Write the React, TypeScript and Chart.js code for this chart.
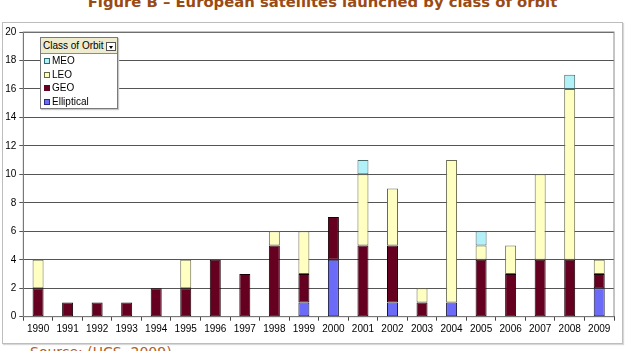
import React, { useEffect, useRef } from "react";
import { Chart, registerables } from "chart.js";

Chart.register(...registerables);

const years = [
  "1990", "1991", "1992", "1993", "1994", "1995", "1996", "1997", "1998", "1999",
  "2000", "2001", "2002", "2003", "2004", "2005", "2006", "2007", "2008", "2009",
];
const elliptical = [0, 0, 0, 0, 0, 0, 0, 0, 0, 1, 4, 0, 1, 0, 1, 0, 0, 0, 0, 2];
const geo = [2, 1, 1, 1, 2, 2, 4, 3, 5, 2, 3, 5, 4, 1, 0, 4, 3, 4, 4, 1];
const leo = [2, 0, 0, 0, 0, 2, 0, 0, 1, 3, 0, 5, 4, 1, 10, 1, 2, 6, 12, 1];
const meo = [0, 0, 0, 0, 0, 0, 0, 0, 0, 0, 0, 1, 0, 0, 0, 1, 0, 0, 1, 0];
const yTicks = [0, 2, 4, 6, 8, 10, 12, 14, 16, 18, 20];

const seriesNames = ["Elliptical", "GEO", "LEO", "MEO"];
const seriesColors = ["#6B6BF7", "#650020", "#FFFFC2", "#B2F1F7"];
const seriesBorders = ["#1a1a40", "#1a0008", "#6a6a50", "#4a6a6a"];
const seriesData = [elliptical, geo, leo, meo];

const FONT = "'Liberation Sans', Arial, sans-serif";

const plotBorder = {
  id: "plotBorder",
  beforeDatasetsDraw(chart: any) {
    const { ctx, chartArea } = chart;
    ctx.save();
    ctx.strokeStyle = "#8a8a8a";
    ctx.lineWidth = 1;
    ctx.strokeRect(chartArea.left, chartArea.top, chartArea.right - chartArea.left, chartArea.bottom - chartArea.top);
    ctx.restore();
  },
};

export default function App() {
  const ref = useRef<HTMLCanvasElement | null>(null);

  useEffect(() => {
    if (!ref.current) return;
    const chart = new Chart(ref.current, {
      type: "bar",
      data: {
        labels: years,
        datasets: seriesNames.map((name, i) => ({
          label: name,
          data: seriesData[i].map((v) => (v === 0 ? null : v)),
          backgroundColor: seriesColors[i],
          borderColor: seriesBorders[i],
          borderWidth: 1,
          borderSkipped: false,
          barPercentage: 0.372,
          categoryPercentage: 1,
        })),
      },
      options: {
        animation: false,
        responsive: false,
        maintainAspectRatio: false,
        layout: { padding: { top: 5.7, right: 8, left: 0, bottom: 0 } },
        plugins: { legend: { display: false }, tooltip: { enabled: false } },
        scales: {
          x: {
            stacked: true,
            grid: {
              offset: true,
              drawOnChartArea: false,
              drawTicks: true,
              tickLength: 4,
              color: "#444",
            },
            border: { color: "#333" },
            ticks: {
              font: { family: FONT, size: 10 },
              color: "#000",
              padding: 3,
              maxRotation: 0,
              autoSkip: false,
            },
            afterFit: (s: any) => {
              s.height = 26.3;
            },
          },
          y: {
            stacked: true,
            min: 0,
            max: 20,
            afterBuildTicks: (s: any) => {
              s.ticks = yTicks.map((v) => ({ value: v }));
            },
            grid: { color: "#555", tickLength: 4 },
            border: { color: "#333" },
            ticks: {
              font: { family: FONT, size: 10 },
              color: "#000",
              padding: 3,
            },
            afterFit: (s: any) => {
              s.width = 20.3;
            },
          },
        },
      },
      plugins: [plotBorder],
    });
    return () => chart.destroy();
  }, []);

  const legendItems = [
    { name: "MEO", fill: "#B2F1F7", border: "#2a6a70" },
    { name: "LEO", fill: "#FFFFC2", border: "#6a6a40" },
    { name: "GEO", fill: "#650020", border: "#650020" },
    { name: "Elliptical", fill: "#6B6BF7", border: "#2a2a80" },
  ];

  return (
    <div style={{ position: "relative", width: 627, height: 351, overflow: "hidden", background: "#fff" }}>
      <style>{"body{margin:0}"}</style>
      <div
        style={{
          position: "absolute",
          left: 0,
          top: -6.5,
          width: 645,
          textAlign: "center",
          fontFamily: "'DejaVu Sans', Verdana, sans-serif",
          fontWeight: "bold",
          fontSize: 14.8,
          lineHeight: "15px",
          color: "#9A4A14",
          whiteSpace: "nowrap",
        }}
      >
        Figure B – European satellites launched by class of orbit
      </div>
      <div
        style={{
          position: "absolute",
          left: 2,
          top: 22,
          width: 621,
          height: 322,
          boxSizing: "border-box",
          border: "1px solid #BDBDBD",
          boxShadow: "1px 1px 1px #d8d8d8",
        }}
      />
      <canvas
        ref={ref}
        width={619}
        height={320}
        style={{ position: "absolute", left: 3, top: 23, width: 619, height: 320 }}
      />
      <div
        style={{
          position: "absolute",
          left: 40,
          top: 37,
          width: 78,
          height: 72,
          boxSizing: "border-box",
          border: "1px solid #7a7a7a",
          background: "#fff",
          boxShadow: "1px 1px 1px #c8c8c8",
          fontFamily: FONT,
          fontSize: 10,
          color: "#000",
        }}
      >
        <div
          style={{
            height: 15,
            background: "#EFEBCF",
            borderBottom: "1px solid #8a8a8a",
            position: "relative",
            lineHeight: "15px",
            paddingLeft: 2,
            whiteSpace: "nowrap",
          }}
        >
          Class of Orbit
          <div
            style={{
              position: "absolute",
              right: 1,
              top: 4,
              width: 10,
              height: 9,
              boxSizing: "border-box",
              border: "1px solid #555",
              background: "#fff",
            }}
          >
            <div
              style={{
                position: "absolute",
                left: 2,
                top: 3,
                width: 0,
                height: 0,
                borderLeft: "2.5px solid transparent",
                borderRight: "2.5px solid transparent",
                borderTop: "3px solid #000",
              }}
            />
          </div>
        </div>
        {legendItems.map((it) => (
          <div key={it.name} style={{ height: 13.5, lineHeight: "13.5px", position: "relative", paddingLeft: 11, whiteSpace: "nowrap" }}>
            <div
              style={{
                position: "absolute",
                left: 3,
                top: 4,
                width: 6,
                height: 6,
                boxSizing: "border-box",
                border: `1px solid ${it.border}`,
                background: it.fill,
              }}
            />
            {it.name}
          </div>
        ))}
      </div>
      <div
        style={{
          position: "absolute",
          left: 30,
          top: 345.3,
          fontFamily: "'DejaVu Sans', Verdana, sans-serif",
          fontSize: 14,
          lineHeight: "14px",
          color: "#B0602A",
          whiteSpace: "nowrap",
        }}
      >
        Source: (UCS, 2009)
      </div>
    </div>
  );
}
